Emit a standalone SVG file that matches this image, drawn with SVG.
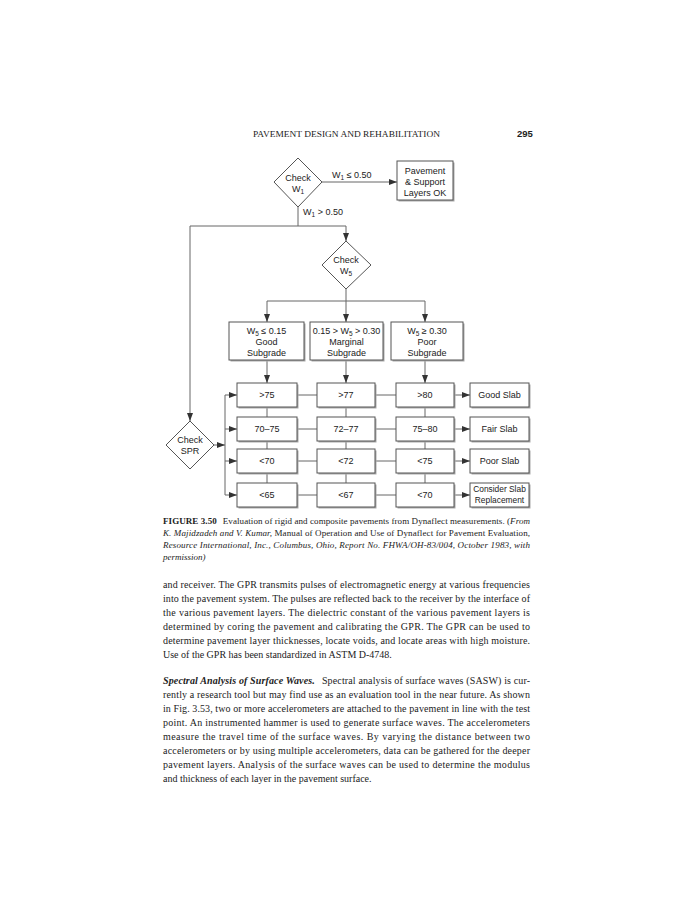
<svg xmlns="http://www.w3.org/2000/svg" width="695" height="900" viewBox="0 0 695 900">
<style>
.bg{fill:#ffffff}
.box{fill:#ffffff;stroke:#555;stroke-width:1}
.sh{fill:#aaa}
.dia{fill:#ffffff;stroke:#555;stroke-width:1}
.ln{fill:none;stroke:#666;stroke-width:1}
.arr{fill:none;stroke:#666;stroke-width:1;marker-end:url(#ah)}
.t{font-family:"Liberation Sans",Arial,sans-serif;font-size:9px;fill:#222;text-anchor:middle}
.sm{font-size:8.4px}
.lbl{font-family:"Liberation Sans",Arial,sans-serif;font-size:9px;fill:#222}
.sub{font-size:6.5px}
.hd{font-family:"Liberation Serif","Times New Roman",serif;font-size:8.5px;fill:#222}
.pg{font-family:"Liberation Sans",Arial,sans-serif;font-size:9.5px;font-weight:bold;fill:#222}
.cap{font-family:"Liberation Serif","Times New Roman",serif;font-size:9px;fill:#222}
.body{font-family:"Liberation Serif","Times New Roman",serif;font-size:10px;fill:#222}
.it{font-style:italic}
.b{font-weight:bold}
</style>
<defs>
<marker id="ah" markerUnits="userSpaceOnUse" markerWidth="8" markerHeight="6" refX="8" refY="3" orient="auto">
<path d="M0,0 L8,3 L0,6 z" fill="#333"/>
</marker>
</defs>
<rect class="bg" x="0" y="0" width="695" height="900"/>

<!-- header -->
<text class="hd" x="253" y="137" textLength="187" lengthAdjust="spacingAndGlyphs">PAVEMENT DESIGN AND REHABILITATION</text>
<text class="pg" x="517" y="137">295</text>

<!-- connectors -->
<g id="connectors">
<line class="arr" x1="322" y1="182" x2="397" y2="182"/>
<line class="ln" x1="298" y1="207" x2="298" y2="226"/>
<line class="ln" x1="190" y1="226" x2="346" y2="226"/>
<line class="arr" x1="346" y1="226" x2="346" y2="241"/>
<line class="arr" x1="190" y1="226" x2="190" y2="421"/>
<line class="ln" x1="346" y1="289" x2="346" y2="301"/>
<line class="ln" x1="267" y1="301" x2="425" y2="301"/>
<line class="arr" x1="267" y1="301" x2="267" y2="322"/>
<line class="arr" x1="346" y1="301" x2="346" y2="322"/>
<line class="arr" x1="425" y1="301" x2="425" y2="322"/>
<line class="arr" x1="267" y1="360" x2="267" y2="383"/>
<line class="arr" x1="346" y1="360" x2="346" y2="383"/>
<line class="arr" x1="425" y1="360" x2="425" y2="383"/>
<line class="arr" x1="214" y1="445" x2="225" y2="445"/>
<line class="ln" x1="225" y1="395" x2="225" y2="495"/>
<line class="arr" x1="225" y1="395" x2="237" y2="395"/>
<line class="arr" x1="225" y1="429" x2="237" y2="429"/>
<line class="arr" x1="225" y1="461" x2="237" y2="461"/>
<line class="arr" x1="225" y1="495" x2="237" y2="495"/>
<!-- row links -->
<line class="ln" x1="297" y1="395" x2="317" y2="395"/>
<line class="ln" x1="375" y1="395" x2="396" y2="395"/>
<line class="arr" x1="454" y1="395" x2="470" y2="395"/>
<line class="ln" x1="297" y1="429" x2="317" y2="429"/>
<line class="ln" x1="375" y1="429" x2="396" y2="429"/>
<line class="arr" x1="454" y1="429" x2="470" y2="429"/>
<line class="ln" x1="297" y1="461" x2="317" y2="461"/>
<line class="ln" x1="375" y1="461" x2="396" y2="461"/>
<line class="arr" x1="454" y1="461" x2="470" y2="461"/>
<line class="ln" x1="297" y1="495" x2="317" y2="495"/>
<line class="ln" x1="375" y1="495" x2="396" y2="495"/>
<line class="arr" x1="454" y1="495" x2="470" y2="495"/>
<!-- column links -->
<line class="ln" x1="267" y1="407" x2="267" y2="417"/>
<line class="ln" x1="267" y1="441" x2="267" y2="449"/>
<line class="ln" x1="267" y1="473" x2="267" y2="483"/>
<line class="ln" x1="346" y1="407" x2="346" y2="417"/>
<line class="ln" x1="346" y1="441" x2="346" y2="449"/>
<line class="ln" x1="346" y1="473" x2="346" y2="483"/>
<line class="ln" x1="425" y1="407" x2="425" y2="417"/>
<line class="ln" x1="425" y1="441" x2="425" y2="449"/>
<line class="ln" x1="425" y1="473" x2="425" y2="483"/>
<!-- labels -->
<text class="lbl" x="332" y="178">W<tspan class="sub" dy="2">1</tspan><tspan dy="-2"> ≤ 0.50</tspan></text>
<text class="lbl" x="303" y="215">W<tspan class="sub" dy="2">1</tspan><tspan dy="-2"> &gt; 0.50</tspan></text>
</g>

<!-- nodes -->
<g id="checkW1">
<polygon class="dia" points="298,158 322,182 298,207 274,182"/>
<text class="t" x="298" y="181">Check</text>
<text class="t" x="298" y="192">W<tspan class="sub" dy="2">1</tspan></text>
</g>
<g id="pavementOK">
<rect class="sh" x="398.5" y="162.5" width="56" height="39"/>
<rect class="box" x="397" y="161" width="56" height="39"/>
<text class="t" x="425" y="174">Pavement</text>
<text class="t" x="425" y="185">&amp; Support</text>
<text class="t" x="425" y="196">Layers OK</text>
</g>
<g id="checkW5">
<polygon class="dia" points="346,241 371,265 346,289 322,265"/>
<text class="t" x="346" y="263">Check</text>
<text class="t" x="346" y="274">W<tspan class="sub" dy="2">5</tspan></text>
</g>
<g id="goodSubgrade">
<rect class="sh" x="230.5" y="323.5" width="75" height="38"/>
<rect class="box" x="229" y="322" width="75" height="38"/>
<text class="t" x="266.5" y="334">W<tspan class="sub" dy="2">5</tspan><tspan dy="-2"> ≤ 0.15</tspan></text>
<text class="t" x="266.5" y="345">Good</text>
<text class="t" x="266.5" y="356">Subgrade</text>
</g>
<g id="marginalSubgrade">
<rect class="sh" x="311.5" y="323.5" width="73" height="38"/>
<rect class="box" x="310" y="322" width="73" height="38"/>
<text class="t" x="346.5" y="334">0.15 &gt; W<tspan class="sub" dy="2">5</tspan><tspan dy="-2"> &gt; 0.30</tspan></text>
<text class="t" x="346.5" y="345">Marginal</text>
<text class="t" x="346.5" y="356">Subgrade</text>
</g>
<g id="poorSubgrade">
<rect class="sh" x="392.5" y="323.5" width="72" height="38"/>
<rect class="box" x="391" y="322" width="72" height="38"/>
<text class="t" x="427" y="334">W<tspan class="sub" dy="2">5</tspan><tspan dy="-2"> ≥ 0.30</tspan></text>
<text class="t" x="427" y="345">Poor</text>
<text class="t" x="427" y="356">Subgrade</text>
</g>
<g id="checkSPR">
<polygon class="dia" points="190,421 214,445 190,469 166,445"/>
<text class="t" x="190" y="443">Check</text>
<text class="t" x="190" y="454">SPR</text>
</g>

<g id="r1c1"><rect class="sh" x="238.5" y="384.5" width="60" height="24"/><rect class="box" x="237" y="383" width="60" height="24"/><text class="t" x="267" y="398">&gt;75</text></g>
<g id="r1c2"><rect class="sh" x="318.5" y="384.5" width="58" height="24"/><rect class="box" x="317" y="383" width="58" height="24"/><text class="t" x="346" y="398">&gt;77</text></g>
<g id="r1c3"><rect class="sh" x="397.5" y="384.5" width="58" height="24"/><rect class="box" x="396" y="383" width="58" height="24"/><text class="t" x="425" y="398">&gt;80</text></g>
<g id="goodSlab"><rect class="sh" x="471.5" y="384.5" width="59" height="24"/><rect class="box" x="470" y="383" width="59" height="24"/><text class="t" x="499.5" y="398">Good Slab</text></g>

<g id="r2c1"><rect class="sh" x="238.5" y="418.5" width="60" height="24"/><rect class="box" x="237" y="417" width="60" height="24"/><text class="t" x="267" y="432">70–75</text></g>
<g id="r2c2"><rect class="sh" x="318.5" y="418.5" width="58" height="24"/><rect class="box" x="317" y="417" width="58" height="24"/><text class="t" x="346" y="432">72–77</text></g>
<g id="r2c3"><rect class="sh" x="397.5" y="418.5" width="58" height="24"/><rect class="box" x="396" y="417" width="58" height="24"/><text class="t" x="425" y="432">75–80</text></g>
<g id="fairSlab"><rect class="sh" x="471.5" y="418.5" width="59" height="24"/><rect class="box" x="470" y="417" width="59" height="24"/><text class="t" x="499.5" y="432">Fair Slab</text></g>

<g id="r3c1"><rect class="sh" x="238.5" y="450.5" width="60" height="24"/><rect class="box" x="237" y="449" width="60" height="24"/><text class="t" x="267" y="464">&lt;70</text></g>
<g id="r3c2"><rect class="sh" x="318.5" y="450.5" width="58" height="24"/><rect class="box" x="317" y="449" width="58" height="24"/><text class="t" x="346" y="464">&lt;72</text></g>
<g id="r3c3"><rect class="sh" x="397.5" y="450.5" width="58" height="24"/><rect class="box" x="396" y="449" width="58" height="24"/><text class="t" x="425" y="464">&lt;75</text></g>
<g id="poorSlab"><rect class="sh" x="471.5" y="450.5" width="59" height="24"/><rect class="box" x="470" y="449" width="59" height="24"/><text class="t" x="499.5" y="464">Poor Slab</text></g>

<g id="r4c1"><rect class="sh" x="238.5" y="484.5" width="60" height="24"/><rect class="box" x="237" y="483" width="60" height="24"/><text class="t" x="267" y="498">&lt;65</text></g>
<g id="r4c2"><rect class="sh" x="318.5" y="484.5" width="58" height="24"/><rect class="box" x="317" y="483" width="58" height="24"/><text class="t" x="346" y="498">&lt;67</text></g>
<g id="r4c3"><rect class="sh" x="397.5" y="484.5" width="58" height="24"/><rect class="box" x="396" y="483" width="58" height="24"/><text class="t" x="425" y="498">&lt;70</text></g>
<g id="replaceSlab"><rect class="sh" x="471.5" y="484.5" width="59" height="24"/><rect class="box" x="470" y="483" width="59" height="24"/><text class="t sm" x="499.5" y="492">Consider Slab</text><text class="t sm" x="499.5" y="503">Replacement</text></g>

<!-- caption -->
<g id="caption">
<text class="cap" x="163" y="524" textLength="367" lengthAdjust="spacing"><tspan class="b">FIGURE 3.50</tspan><tspan dx="6">Evaluation of rigid and composite pavements from Dynaflect measurements. (</tspan><tspan class="it">From</tspan></text>
<text class="cap" x="163" y="536" textLength="367" lengthAdjust="spacing"><tspan class="it">K. Majidzadeh and V. Kumar,</tspan> Manual of Operation and Use of Dynaflect for Pavement Evaluation,</text>
<text class="cap it" x="163" y="548" textLength="367" lengthAdjust="spacing">Resource International, Inc., Columbus, Ohio, Report No. FHWA/OH-83/004, October 1983, with</text>
<text class="cap it" x="163" y="560">permission)</text>
</g>

<!-- body text -->
<g id="body">
<text class="body" x="163" y="588" textLength="367" lengthAdjust="spacing">and receiver. The GPR transmits pulses of electromagnetic energy at various frequencies</text>
<text class="body" x="163" y="602" textLength="367" lengthAdjust="spacing">into the pavement system. The pulses are reflected back to the receiver by the interface of</text>
<text class="body" x="163" y="616" textLength="367" lengthAdjust="spacing">the various pavement layers. The dielectric constant of the various pavement layers is</text>
<text class="body" x="163" y="630" textLength="367" lengthAdjust="spacing">determined by coring the pavement and calibrating the GPR. The GPR can be used to</text>
<text class="body" x="163" y="644" textLength="367" lengthAdjust="spacing">determine pavement layer thicknesses, locate voids, and locate areas with high moisture.</text>
<text class="body" x="163" y="658">Use of the GPR has been standardized in ASTM D-4748.</text>
<text class="body" x="163" y="684" textLength="367" lengthAdjust="spacing"><tspan class="b it">Spectral Analysis of Surface Waves.</tspan><tspan dx="7">Spectral analysis of surface waves (SASW) is cur-</tspan></text>
<text class="body" x="163" y="698" textLength="367" lengthAdjust="spacing">rently a research tool but may find use as an evaluation tool in the near future. As shown</text>
<text class="body" x="163" y="712" textLength="367" lengthAdjust="spacing">in Fig. 3.53, two or more accelerometers are attached to the pavement in line with the test</text>
<text class="body" x="163" y="726" textLength="367" lengthAdjust="spacing">point. An instrumented hammer is used to generate surface waves. The accelerometers</text>
<text class="body" x="163" y="740" textLength="367" lengthAdjust="spacing">measure the travel time of the surface waves. By varying the distance between two</text>
<text class="body" x="163" y="754" textLength="367" lengthAdjust="spacing">accelerometers or by using multiple accelerometers, data can be gathered for the deeper</text>
<text class="body" x="163" y="768" textLength="367" lengthAdjust="spacing">pavement layers. Analysis of the surface waves can be used to determine the modulus</text>
<text class="body" x="163" y="782">and thickness of each layer in the pavement surface.</text>
</g>
</svg>
